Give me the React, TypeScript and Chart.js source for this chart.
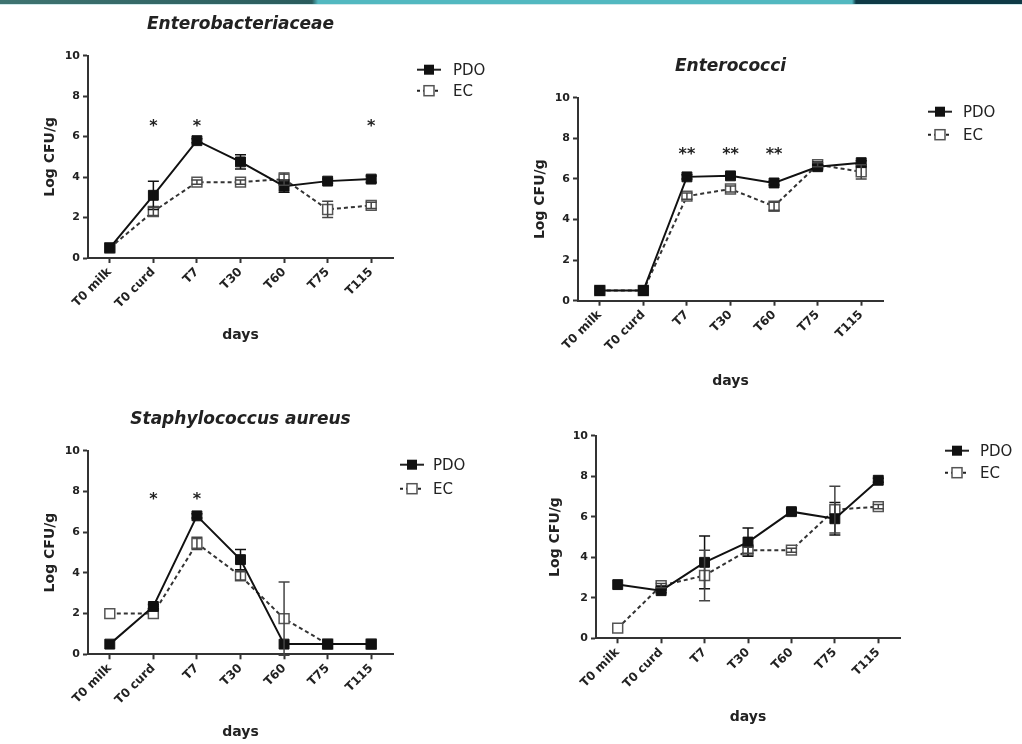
import { useEffect, useRef } from "react";
import { Chart, registerables } from "chart.js";

Chart.register(...registerables);

// ---------- data ----------
const categories = ["T0 milk", "T0 curd", "T7", "T30", "T60", "T75", "T115"];
const yTicks = [0, 2, 4, 6, 8, 10];
const seriesNames = ["PDO", "EC"];

// Enterobacteriaceae
const enteroPDO = [0.5, 3.1, 5.8, 4.75, 3.55, 3.8, 3.9];
const enteroPDOErr = [0, 0.7, 0.1, 0.35, 0.3, 0.1, 0.15];
const enteroEC = [0.5, 2.3, 3.75, 3.75, 3.9, 2.4, 2.6];
const enteroECErr = [0, 0.2, 0.1, 0.1, 0.3, 0.4, 0.15];
const enteroStars = ["", "*", "*", "", "", "", "*"];
const enteroStarLevel = 6.73;

// Enterococci
const coccPDO = [0.5, 0.5, 6.1, 6.15, 5.8, 6.6, 6.8];
const coccPDOErr = [0, 0, 0.1, 0.1, 0.1, 0.1, 0.1];
const coccEC = [0.5, 0.5, 5.15, 5.5, 4.65, 6.7, 6.35];
const coccECErr = [0, 0, 0.15, 0.15, 0.2, 0.1, 0.35];
const coccStars = ["", "", "**", "**", "**", "", ""];
const coccStarLevel = 7.42;

// Staphylococcus aureus
const staphPDO = [0.5, 2.35, 6.8, 4.65, 0.5, 0.5, 0.5];
const staphPDOErr = [0, 0.1, 0.1, 0.5, 0, 0, 0];
const staphEC = [2.0, 2.0, 5.45, 3.85, 1.75, 0.5, 0.5];
const staphECErr = [0, 0, 0.3, 0.2, 1.8, 0, 0];
const staphStars = ["", "*", "*", "", "", "", ""];
const staphStarLevel = 7.82;

// Fourth panel (untitled)
const fourthPDO = [2.65, 2.35, 3.75, 4.75, 6.25, 5.9, 7.8];
const fourthPDOErr = [0, 0.1, 1.3, 0.7, 0.15, 0.8, 0.1];
const fourthEC = [0.5, 2.6, 3.1, 4.35, 4.35, 6.35, 6.5];
const fourthECErr = [0, 0.1, 1.25, 0.15, 0.1, 1.15, 0.1];
const fourthStars = ["", "", "", "", "", "", ""];
const fourthStarLevel = 0;

// ---------- styling / layout ----------
const FONT = "'DejaVu Sans', 'Liberation Sans', sans-serif";
const AXIS = "#333";
const TEXT = "#222";

type Panel = {
  title: string;
  pdo: number[];
  pdoErr: number[];
  ec: number[];
  ecErr: number[];
  stars: string[];
  starLevel: number;
  box: { left: number; top: number; width: number; height: number };
  pad: { left: number; top: number; right: number; bottom: number };
  yW: number;
  xH: number;
  legend: { cx: number; tx: number; y1: number; y2: number };
};

const panels: Panel[] = [
  {
    title: "Enterobacteriaceae",
    pdo: enteroPDO, pdoErr: enteroPDOErr, ec: enteroEC, ecErr: enteroECErr,
    stars: enteroStars, starLevel: enteroStarLevel,
    box: { left: 0, top: 0, width: 511, height: 400 },
    pad: { left: 41.6, top: 55.7, right: 118, bottom: 56.6 },
    yW: 46.4, xH: 85.4,
    legend: { cx: 36, tx: 60, y1: 14, y2: 35 },
  },
  {
    title: "Enterococci",
    pdo: coccPDO, pdoErr: coccPDOErr, ec: coccEC, ecErr: coccECErr,
    stars: coccStars, starLevel: coccStarLevel,
    box: { left: 511, top: 0, width: 511, height: 410 },
    pad: { left: 20.6, top: 97.7, right: 139, bottom: 20.6 },
    yW: 46.4, xH: 88.7,
    legend: { cx: 57, tx: 80, y1: 14, y2: 37 },
  },
  {
    title: "Staphylococcus aureus",
    pdo: staphPDO, pdoErr: staphPDOErr, ec: staphEC, ecErr: staphECErr,
    stars: staphStars, starLevel: staphStarLevel,
    box: { left: 0, top: 400, width: 511, height: 344 },
    pad: { left: 41.6, top: 50.7, right: 118, bottom: 3.6 },
    yW: 46.4, xH: 86.1,
    legend: { cx: 19, tx: 40, y1: 14, y2: 38 },
  },
  {
    title: "",
    pdo: fourthPDO, pdoErr: fourthPDOErr, ec: fourthEC, ecErr: fourthECErr,
    stars: fourthStars, starLevel: fourthStarLevel,
    box: { left: 511, top: 410, width: 511, height: 334 },
    pad: { left: 35.6, top: 25.7, right: 122, bottom: 18.6 },
    yW: 49.4, xH: 87.1,
    legend: { cx: 57, tx: 80, y1: 15, y2: 37 },
  },
];

function drawSquare(ctx: CanvasRenderingContext2D, x: number, y: number, filled: boolean) {
  const s = 10;
  ctx.save();
  ctx.setLineDash([]);
  if (filled) {
    ctx.fillStyle = "#111";
    ctx.fillRect(x - s / 2, y - s / 2, s, s);
  } else {
    ctx.fillStyle = "#fff";
    ctx.fillRect(x - s / 2, y - s / 2, s, s);
    ctx.strokeStyle = "#555";
    ctx.lineWidth = 1.5;
    ctx.strokeRect(x - s / 2, y - s / 2, s, s);
  }
  ctx.restore();
}

function makeDecor(p: Panel) {
  return {
    id: "panelDecor",
    afterDatasetsDraw(chart: any) {
      const ctx: CanvasRenderingContext2D = chart.ctx;
      const ys = chart.scales.y;
      const errs = [p.pdoErr, p.ecErr];
      const vals = [p.pdo, p.ec];
      const colors = ["#111", "#444"];
      ctx.save();
      for (let d = 0; d < 2; d++) {
        const meta = chart.getDatasetMeta(d);
        ctx.strokeStyle = colors[d];
        ctx.lineWidth = 1.5;
        ctx.setLineDash([]);
        for (let j = 0; j < vals[d].length; j++) {
          const e = errs[d][j];
          if (!e) continue;
          const x = meta.data[j].x;
          const yt = ys.getPixelForValue(vals[d][j] + e);
          const yb = ys.getPixelForValue(vals[d][j] - e);
          ctx.beginPath();
          ctx.moveTo(x, yt);
          ctx.lineTo(x, yb);
          ctx.moveTo(x - 5.5, yt);
          ctx.lineTo(x + 5.5, yt);
          ctx.moveTo(x - 5.5, yb);
          ctx.lineTo(x + 5.5, yb);
          ctx.stroke();
        }
      }
      ctx.restore();
    },
    afterDraw(chart: any) {
      const ctx: CanvasRenderingContext2D = chart.ctx;
      const area = chart.chartArea;
      const xs = chart.scales.x;
      const ys = chart.scales.y;
      ctx.save();
      // title
      if (p.title) {
        ctx.fillStyle = TEXT;
        ctx.font = `italic bold 17px ${FONT}`;
        ctx.textAlign = "center";
        ctx.textBaseline = "alphabetic";
        ctx.fillText(p.title, (area.left + area.right) / 2, area.top - 27);
      }
      // significance stars
      ctx.font = `bold 16px ${FONT}`;
      ctx.textAlign = "center";
      ctx.textBaseline = "alphabetic";
      ctx.fillStyle = TEXT;
      p.stars.forEach((s, j) => {
        if (!s) return;
        const x = xs.getPixelForValue(j);
        const y = ys.getPixelForValue(p.starLevel);
        ctx.fillText(s, x, y + 9);
      });
      // legend
      const L = p.legend;
      const cx = area.right + L.cx;
      const tx = area.right + L.tx;
      const rows = [
        { y: area.top + L.y1, dash: [] as number[], filled: true, name: seriesNames[0] },
        { y: area.top + L.y2, dash: [3, 3], filled: false, name: seriesNames[1] },
      ];
      rows.forEach((r) => {
        ctx.strokeStyle = "#222";
        ctx.lineWidth = 2;
        ctx.setLineDash(r.dash);
        ctx.beginPath();
        ctx.moveTo(cx - 12, r.y);
        ctx.lineTo(cx + 12, r.y);
        ctx.stroke();
        drawSquare(ctx, cx, r.y, r.filled);
        ctx.setLineDash([]);
        ctx.fillStyle = TEXT;
        ctx.font = `15px ${FONT}`;
        ctx.textAlign = "left";
        ctx.textBaseline = "middle";
        ctx.fillText(r.name, tx, r.y + 1);
      });
      ctx.restore();
    },
  };
}

function PanelChart({ p }: { p: Panel }) {
  const ref = useRef<HTMLCanvasElement | null>(null);
  useEffect(() => {
    if (!ref.current) return;
    const tickFont = { family: FONT, size: 11, weight: "bold" as const };
    const chart = new Chart(ref.current, {
      type: "line",
      data: {
        labels: categories,
        datasets: [
          {
            label: seriesNames[0],
            data: p.pdo,
            borderColor: "#111",
            borderWidth: 2,
            pointStyle: "rect",
            pointRadius: 7,
            pointBackgroundColor: "#111",
            pointBorderColor: "#111",
            pointBorderWidth: 1,
            tension: 0,
          },
          {
            label: seriesNames[1],
            data: p.ec,
            borderColor: "#333",
            borderWidth: 2,
            borderDash: [4, 3],
            pointStyle: "rect",
            pointRadius: 7,
            pointBackgroundColor: "#fff",
            pointBorderColor: "#555",
            pointBorderWidth: 1.5,
            tension: 0,
          },
        ],
      },
      options: {
        responsive: false,
        animation: false,
        devicePixelRatio: 1,
        layout: { padding: p.pad },
        plugins: {
          legend: { display: false },
          tooltip: { enabled: false },
          title: { display: false },
        },
        scales: {
          x: {
            type: "category",
            offset: true,
            grid: {
              offset: false,
              drawOnChartArea: false,
              drawTicks: true,
              tickLength: 5,
              tickWidth: 2,
              tickColor: AXIS,
            },
            border: { color: AXIS, width: 2 },
            ticks: {
              color: TEXT,
              font: { family: FONT, size: 12, weight: "bold" },
              minRotation: 45,
              maxRotation: 45,
              autoSkip: false,
              padding: 2,
            },
            title: {
              display: true,
              text: "days",
              color: TEXT,
              font: { family: FONT, size: 14, weight: "bold" },
              padding: 0,
            },
            afterFit: (s: any) => {
              s.height = p.xH;
            },
          },
          y: {
            min: 0,
            max: 10,
            afterBuildTicks: (s: any) => {
              s.ticks = yTicks.map((v) => ({ value: v }));
            },
            grid: {
              drawOnChartArea: false,
              drawTicks: true,
              tickLength: 5,
              tickWidth: 2,
              tickColor: AXIS,
            },
            border: { color: AXIS, width: 2 },
            ticks: { color: TEXT, font: tickFont, padding: 3 },
            title: {
              display: true,
              text: "Log CFU/g",
              color: TEXT,
              font: { family: FONT, size: 14, weight: "bold" },
              padding: 0,
            },
            afterFit: (s: any) => {
              s.width = p.yW;
            },
          },
        },
      },
      plugins: [makeDecor(p)],
    } as any);
    return () => chart.destroy();
  }, [p]);
  return (
    <canvas
      ref={ref}
      width={p.box.width}
      height={p.box.height}
      style={{
        position: "absolute",
        left: p.box.left,
        top: p.box.top,
        width: p.box.width,
        height: p.box.height,
      }}
    />
  );
}

export default function App() {
  return (
    <div
      style={{
        position: "absolute",
        left: 0,
        top: 0,
        width: 1022,
        height: 744,
        background: "#fff",
        overflow: "hidden",
      }}
    >
      <div
        style={{
          position: "absolute",
          left: 0,
          top: 0,
          width: 1022,
          height: 4,
          background:
            "linear-gradient(90deg, #3f7471 0px, #2a5c5d 312px, #52b8c0 318px, #52b8c0 852px, #0f3a46 856px, #0f3a46 1022px)",
        }}
      />
      <div
        style={{
          position: "absolute",
          left: 0,
          top: 4,
          width: 1022,
          height: 1,
          background: "#cfe9eb",
        }}
      />
      {panels.map((p, i) => (
        <PanelChart key={i} p={p} />
      ))}
    </div>
  );
}
